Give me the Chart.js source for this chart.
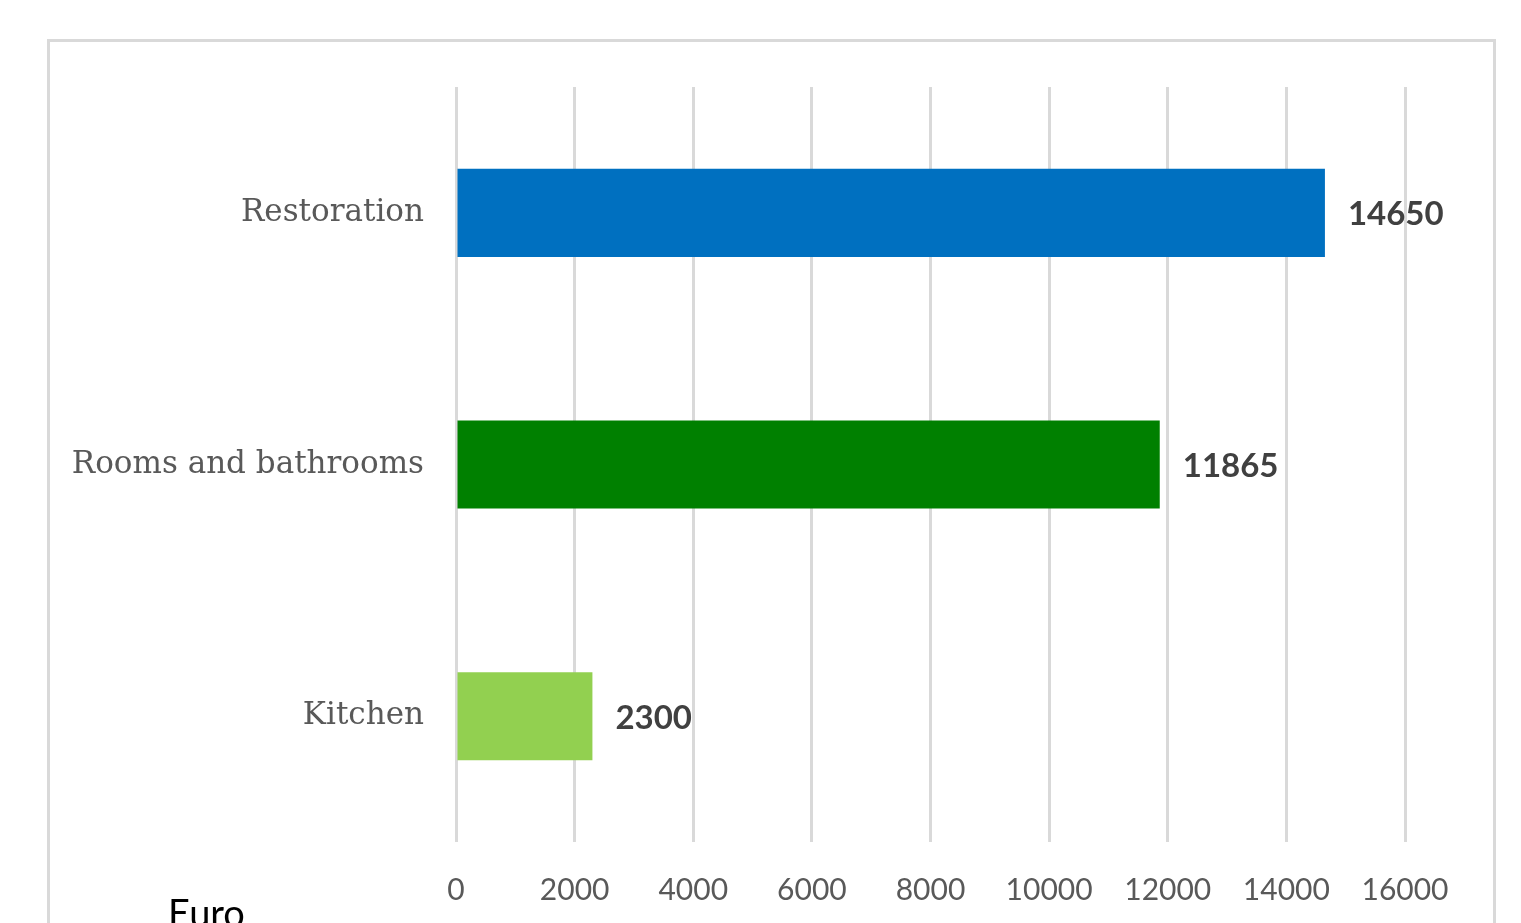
<!DOCTYPE html>
<html>
<head>
<meta charset="utf-8">
<script src="https://cdn.jsdelivr.net/npm/chart.js@4"></script>
<style>
  html, body { margin: 0; padding: 0; background: #fff; overflow: hidden; }
  body { width: 1521px; height: 923px; position: relative; }
  #frame {
    position: absolute; left: 47px; top: 39px; width: 1443px; height: 1000px;
    border: 3px solid #d9d9d9;
  }
  #chart { position: absolute; left: 0; top: 0; }
  #euro {
    position: absolute; left: 168px; top: 889px;
    font-family: Lato, sans-serif; font-size: 38px; color: #000;
  }
</style>
</head>
<body>
<div id="frame"></div>
<canvas id="chart" width="1521" height="923"></canvas>
<div id="euro">Euro</div>
<script>
// categories top to bottom, as in the picture
const categories = ['Restoration', 'Rooms and bathrooms', 'Kitchen'];
const amounts = [14650, 11865, 2300];
const barColors = ['#0070C0', '#008000', '#92D050'];
const xMax = 16000;
const xStep = 2000;

// value labels at the end of each bar
const valueLabels = {
    id: 'valueLabels',
    afterDatasetsDraw(chart) {
        const ctx = chart.ctx;
        const meta = chart.getDatasetMeta(0);
        ctx.save();
        ctx.font = 'bold 33px Lato, sans-serif';
        ctx.fillStyle = '#404040';
        ctx.textAlign = 'left';
        ctx.textBaseline = 'middle';
        meta.data.forEach((bar, i) => {
            ctx.fillText(String(amounts[i]), bar.x + 23, bar.y + 2);
        });
        ctx.restore();
    }
};

const ctx = document.getElementById('chart').getContext('2d');
new Chart(ctx, {
    type: 'bar',
    data: {
        labels: categories,
        datasets: [{
            data: amounts,
            backgroundColor: barColors,
            borderWidth: 0,
            barPercentage: 0.35,
            categoryPercentage: 1
        }]
    },
    options: {
        indexAxis: 'y',
        responsive: false,
        animation: false,
        devicePixelRatio: 1,
        layout: { padding: { left: 0, top: 87, right: 116, bottom: 0 } },
        plugins: { legend: { display: false }, tooltip: { enabled: false } },
        scales: {
            x: {
                min: 0,
                max: xMax,
                border: { display: false },
                grid: { color: '#d9d9d9', lineWidth: 3, drawTicks: false },
                ticks: {
                    stepSize: xStep,
                    padding: 30,
                    color: '#595959',
                    font: { family: 'Lato, sans-serif', size: 30 },
                    callback: v => String(v)
                },
                afterFit(scale) { scale.height = 81; }
            },
            y: {
                border: { display: false },
                grid: { display: false, drawTicks: false },
                ticks: {
                    padding: 32,
                    color: '#595959',
                    font: { family: '"DejaVu Serif", serif', size: 31 }
                },
                afterFit(scale) { scale.width = 456; }
            }
        }
    },
    plugins: [valueLabels]
});
</script>
</body>
</html>
